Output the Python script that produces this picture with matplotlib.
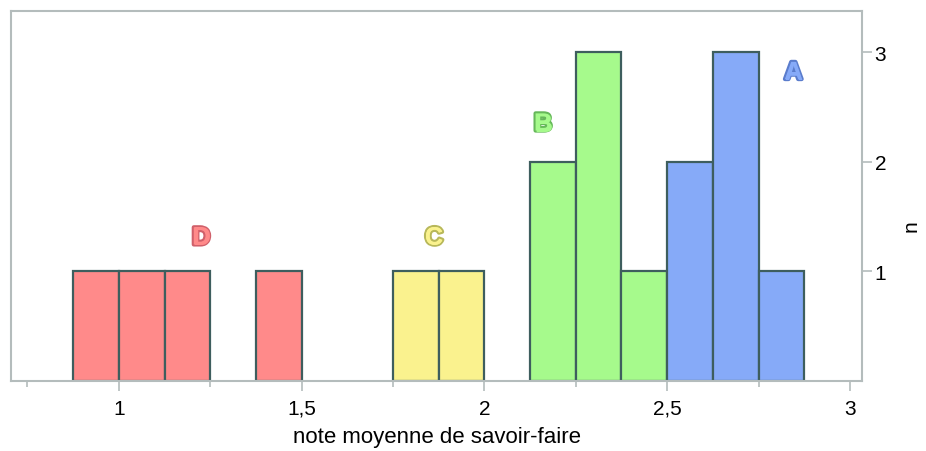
import matplotlib
matplotlib.use("Agg")
import matplotlib.pyplot as plt
import matplotlib.patheffects as pe
from matplotlib.ticker import MultipleLocator, FuncFormatter

# Data
bin_left = [0.875, 1.0, 1.125, 1.375, 1.75, 1.875, 2.125, 2.25, 2.375, 2.5, 2.625, 2.75]
counts = [1, 1, 1, 1, 1, 1, 2, 3, 1, 2, 3, 1]
groups = ['D', 'D', 'D', 'D', 'C', 'C', 'B', 'B', 'B', 'A', 'A', 'A']
bin_width = 0.125
group_labels = ['D', 'C', 'B', 'A']
label_x = [1.225, 1.862, 2.16, 2.845]
label_y = [1.31, 1.31, 2.35, 2.82]

plt.rcParams['font.family'] = ['Liberation Sans', 'DejaVu Sans']

fill = {'D': '#FF8A8A', 'C': '#FAF28E', 'B': '#A6FA8C', 'A': '#86AAF8'}
text_edge = {'D': '#D0606A', 'C': '#B8B85A', 'B': '#66B85A', 'A': '#5A7CCC'}

fig = plt.figure(figsize=(9.26, 4.52), dpi=100)
ax = fig.add_axes([0.0119, 0.155, 0.919, 0.819])

for x, c, g in zip(bin_left, counts, groups):
    ax.bar(x, c, width=bin_width, align='edge', color=fill[g],
           edgecolor='#3E5E5E', linewidth=1.6, zorder=2)

for g, x, y in zip(group_labels, label_x, label_y):
    ax.text(x, y, g, ha='center', va='center', fontsize=18, fontweight='bold',
            color=fill[g],
            path_effects=[pe.withStroke(linewidth=3, foreground=text_edge[g])],
            zorder=3)
    ax.text(x, y, g, ha='center', va='center', fontsize=18, fontweight='bold',
            color=fill[g], zorder=4)

ax.set_xlim(0.705, 3.033)
ax.set_ylim(0, 3.38)

ax.xaxis.set_major_locator(MultipleLocator(0.5))
ax.xaxis.set_minor_locator(MultipleLocator(0.25))
ax.xaxis.set_major_formatter(FuncFormatter(lambda v, p: ('%g' % v).replace('.', ',')))
ax.set_yticks([1, 2, 3])
ax.yaxis.tick_right()
ax.yaxis.set_label_position('right')

spine_c = '#B4BCBC'
for s in ax.spines.values():
    s.set_color(spine_c)
    s.set_linewidth(1.5)

ax.tick_params(axis='x', which='major', length=7, width=1.2, color=spine_c,
               labelsize=15, pad=6)
ax.tick_params(axis='x', which='minor', length=4, width=1.2, color=spine_c)
ax.tick_params(axis='y', which='major', length=7, width=1.2, color=spine_c,
               labelsize=15, pad=2)

ax.set_xlabel('note moyenne de savoir-faire', fontsize=16, labelpad=6)
ax.set_ylabel('n', fontsize=15, rotation=90, va='center', ha='center')
ax.yaxis.set_label_coords(1.058, 0.42)

fig.savefig('out.png', dpi=100)
